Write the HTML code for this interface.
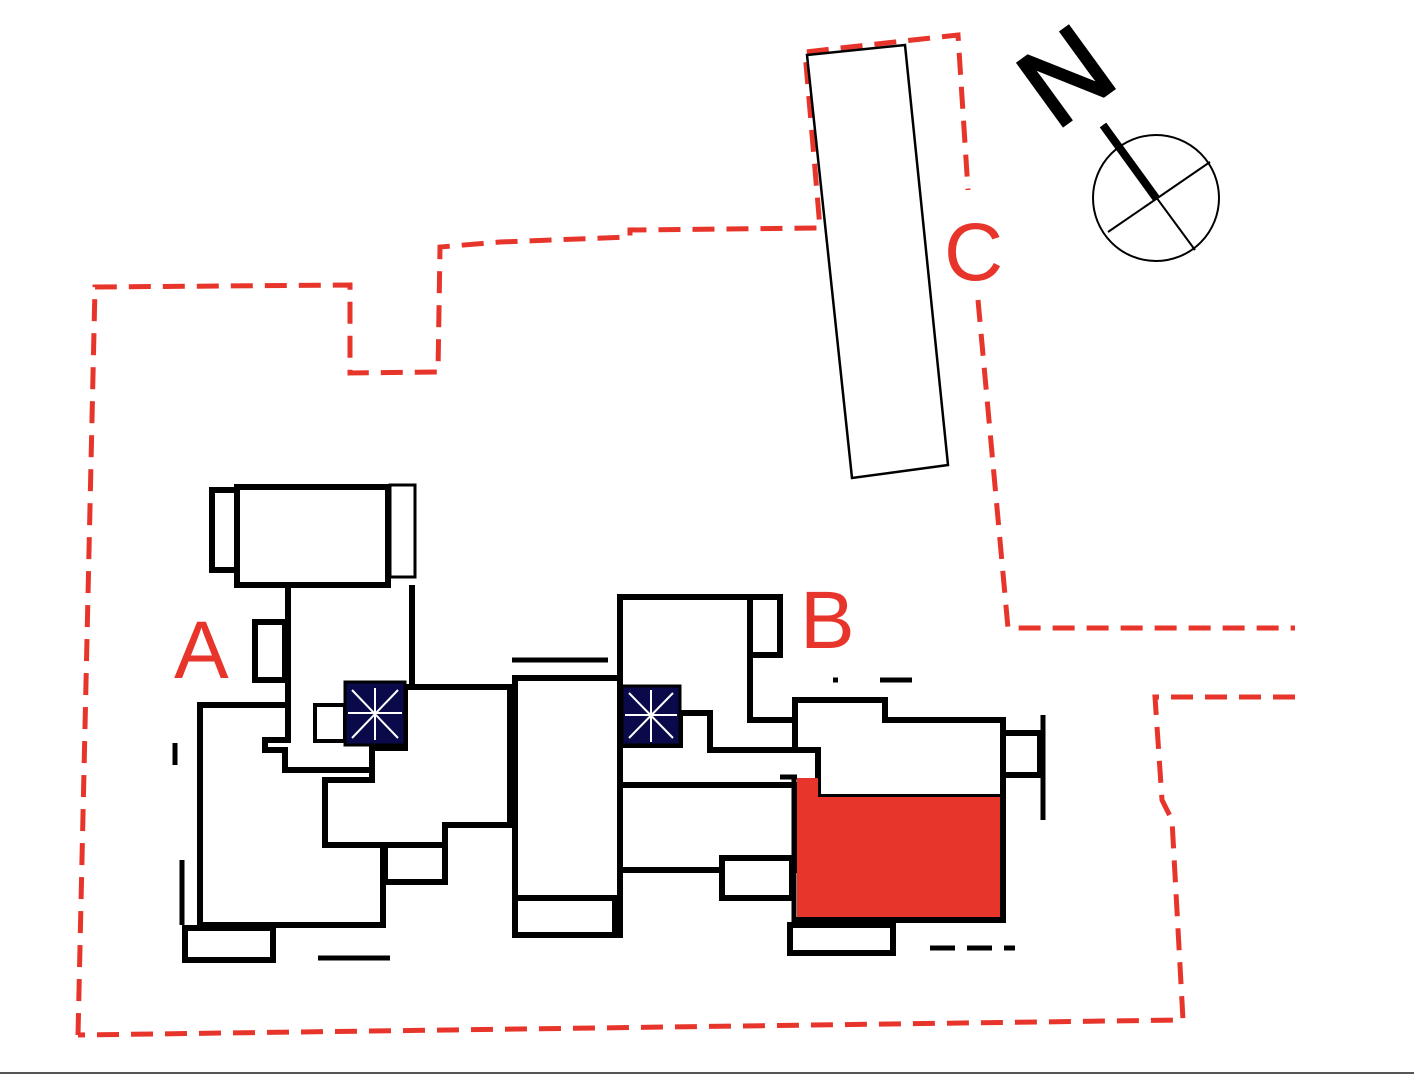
<!DOCTYPE html>
<html><head><meta charset="utf-8"><style>
html,body{margin:0;padding:0;background:#fff;}
svg{display:block;}
</style></head><body>
<svg width="1414" height="1080" viewBox="0 0 1414 1080" xmlns="http://www.w3.org/2000/svg">
<rect width="1414" height="1080" fill="#fff"/>
<g fill="none" stroke="#e8352b" stroke-width="5" stroke-dasharray="22,12">
<polyline points="78,1035 95,287 350,285 350,373 438,372 440,247 500,242 630,237 630,230 820,228 805,52 958,35 968,190"/>
<polyline points="978,300 1008,628 1295,628"/>
<polyline points="1295,697 1155,697 1162,800 1172,820 1183,1020 78,1035"/>
</g>
<polygon points="807,55 905,45 948,465 852,478" fill="none" stroke="#000" stroke-width="2.5"/>
<g font-family="Liberation Sans, sans-serif" fill="#e8352b" font-size="82">
<text x="174" y="678">A</text>
<text x="800" y="648">B</text>
<text x="944" y="280">C</text>
</g>
<circle cx="1156" cy="198" r="63" fill="none" stroke="#000" stroke-width="2"/>
<line x1="1103" y1="125" x2="1195" y2="250" stroke="#000" stroke-width="2"/>
<line x1="1108" y1="232" x2="1210" y2="162" stroke="#000" stroke-width="2"/>
<line x1="1103" y1="125" x2="1156" y2="198" stroke="#000" stroke-width="8"/>
<text x="0" y="0" transform="translate(1066,76) rotate(-36)" font-family="Liberation Sans, sans-serif" font-size="112" text-anchor="middle" dominant-baseline="central" fill="#000" stroke="#000" stroke-width="3">N</text>
<g fill="#fff" stroke="#000" stroke-width="6" stroke-linejoin="miter">
<rect x="212" y="490" width="25" height="80"/>
<rect x="237" y="487" width="151" height="98"/>
<rect x="390" y="485" width="25" height="92" stroke-width="3"/>
<polyline points="288,585 288,705" fill="none"/>
<polyline points="412,585 412,688" fill="none"/>
<rect x="255" y="622" width="30" height="58"/>
<polygon points="200,705 288,705 288,740 265,740 265,750 285,750 285,770 372,770 372,780 325,780 325,845 383,845 383,925 200,925"/>
<polygon points="325,780 372,780 372,748 405,748 405,687 510,687 510,825 445,825 445,845 325,845"/>
<rect x="315" y="705" width="30" height="36" stroke-width="4"/>
<rect x="385" y="845" width="60" height="37"/>
<rect x="185" y="928" width="88" height="32"/>
<rect x="515" y="678" width="105" height="257"/>
<rect x="515" y="898" width="100" height="37"/>
<polygon points="620,597 750,597 750,720 795,720 795,750 710,750 710,713 680,713 680,745 620,745"/>
<rect x="750" y="597" width="30" height="58"/>
<polygon points="620,785 795,785 795,870 620,870"/>
<rect x="722" y="858" width="70" height="40"/>
<polygon points="795,700 885,700 885,720 1003,720 1003,797 818,797 818,750 795,750"/>
<rect x="1003" y="733" width="37" height="42"/>
<rect x="790" y="925" width="103" height="28"/>
</g>
<polygon points="797,778 818,778 818,797 1000,797 1000,918 797,918" fill="#e8352b"/>
<line x1="780" y1="777" x2="797" y2="777" stroke="#000" stroke-width="5"/>
<line x1="1043" y1="715" x2="1043" y2="820" stroke="#000" stroke-width="5"/>
<line x1="794" y1="775" x2="794" y2="925" stroke="#000" stroke-width="5"/>
<line x1="1003" y1="718" x2="1003" y2="922" stroke="#000" stroke-width="6"/>
<line x1="793" y1="920" x2="1006" y2="920" stroke="#000" stroke-width="6"/>
<rect x="345" y="682" width="60" height="63" fill="#0a0a4a" stroke="#000" stroke-width="3"/>
<rect x="622" y="686" width="58" height="59" fill="#0a0a4a" stroke="#000" stroke-width="3"/>
<g stroke="#fff" stroke-width="2">
<line x1="352" y1="690" x2="398" y2="738"/><line x1="398" y1="690" x2="352" y2="738"/>
<line x1="375" y1="688" x2="375" y2="740"/><line x1="348" y1="713" x2="402" y2="713"/>
<line x1="629" y1="693" x2="673" y2="738"/><line x1="673" y1="693" x2="629" y2="738"/>
<line x1="651" y1="690" x2="651" y2="742"/><line x1="625" y1="715" x2="677" y2="715"/>
</g>
<g stroke="#000" stroke-width="5">
<line x1="512" y1="660" x2="608" y2="660"/>
<line x1="318" y1="958" x2="390" y2="958"/>
<line x1="930" y1="948" x2="1015" y2="948" stroke-dasharray="25,12"/>
<line x1="880" y1="680" x2="912" y2="680"/>
<line x1="833" y1="680" x2="838" y2="680"/>
<line x1="175" y1="743" x2="175" y2="765"/>
<line x1="182" y1="860" x2="182" y2="925"/>
</g>
<line x1="0" y1="1073" x2="1414" y2="1073" stroke="#555" stroke-width="2"/>
</svg>
</body></html>
